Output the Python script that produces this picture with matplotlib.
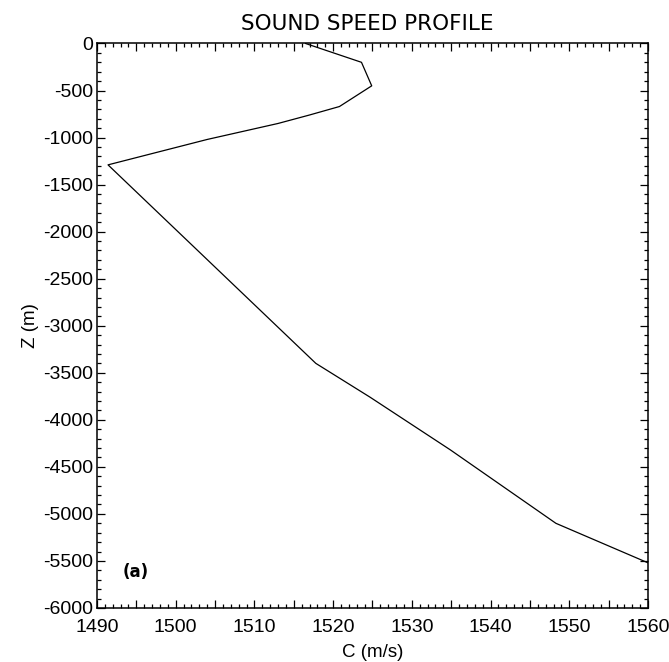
import matplotlib
matplotlib.use('Agg')
import matplotlib.pyplot as plt
from matplotlib.ticker import MultipleLocator, FuncFormatter

plt.rcParams['axes.unicode_minus'] = False

# sound speed profile
depth = [0, -200, -450, -670, -760, -850, -1020, -1290, -3400, -3760, -4320, -5100, -5520]
speed = [1516.5, 1523.6, 1524.9, 1520.8, 1517.0, 1513.0, 1504.0, 1491.4,
         1517.8, 1524.7, 1534.9, 1548.3, 1560.0]

x_lim = (1490, 1560)
y_lim = (-6000, 0)

tick_font = ['Liberation Sans Narrow', 'Liberation Sans', 'DejaVu Sans']
label_font = ['Liberation Sans', 'DejaVu Sans']

fig = plt.figure(figsize=(6.69, 6.62), dpi=100)
ax = fig.add_axes([0.145, 0.0816, 0.8236, 0.8527])

ax.plot(speed, depth, color='black', linewidth=0.9)

ax.set_xlim(*x_lim)
ax.set_ylim(*y_lim)

# IDL style ticks: inward, on all four sides
ax.xaxis.set_major_locator(MultipleLocator(5))
ax.xaxis.set_minor_locator(MultipleLocator(1))
ax.xaxis.set_major_formatter(FuncFormatter(lambda v, p: '%d' % v if round(v) % 10 == 0 else ''))
ax.yaxis.set_major_locator(MultipleLocator(500))
ax.yaxis.set_minor_locator(MultipleLocator(100))
ax.yaxis.set_major_formatter(FuncFormatter(lambda v, p: '%d' % v))

ax.tick_params(which='both', direction='in', top=True, right=True, color='black', width=0.9)
ax.tick_params(which='major', length=5.5)
ax.tick_params(which='minor', length=2.8)
ax.tick_params(axis='x', pad=8)
ax.tick_params(axis='y', pad=3)

for lab in ax.get_xticklabels() + ax.get_yticklabels():
    lab.set_fontfamily(tick_font)
    lab.set_fontsize(14)

for s in ax.spines.values():
    s.set_linewidth(1.1)
    s.set_color('black')

ax.set_title('SOUND SPEED PROFILE', fontsize=15.5, family='DejaVu Sans', pad=10, x=0.49)
ax.set_xlabel('C (m/s)', fontsize=13.5, family=label_font, labelpad=6)
ax.set_ylabel('Z (m)', fontsize=13.5, family=label_font, labelpad=3)

ax.text(0.047, 0.064, '(a)', transform=ax.transAxes, fontsize=12,
        fontweight='bold', family='DejaVu Sans', va='center', ha='left')

fig.savefig('out.png', dpi=100)
